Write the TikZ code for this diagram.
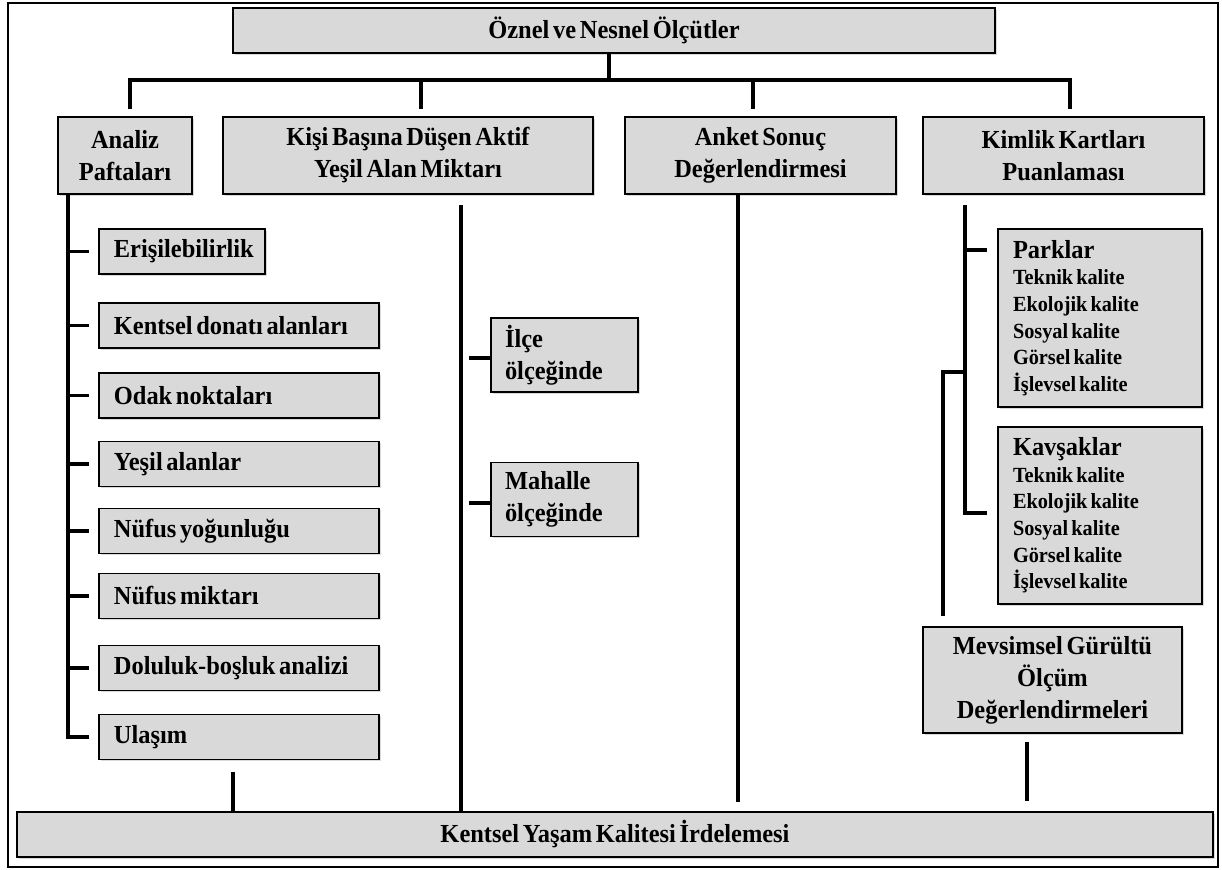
\documentclass[tikz,border=0pt]{standalone}
\usepackage{fontspec}
\setmainfont[FakeStretch=0.94,WordSpace=0.6]{Liberation Serif}
\usetikzlibrary{shadows,calc}
\definecolor{boxgray}{RGB}{217,217,217}
\begin{document}
\begin{tikzpicture}[
  x=0.5pt, y=-0.5pt,
  box/.style={
    draw,
    fill=boxgray,
    line width=0.9pt,
    drop shadow={shadow xshift=0.8pt,shadow yshift=-0.8pt,opacity=0.3},
    font=\bfseries\fontsize{13}{16}\selectfont,
    align=center,
    inner sep=0pt
  },
  item/.style={
    box,
    anchor=west,
    align=left,
    minimum height=22.5pt,
    inner xsep=7.5pt,
    execute at begin node={\spaceskip=0pt\xspaceskip=0pt}
  },
  scalebox/.style={
    box,
    align=left,
    text width=59.5pt,
    inner xsep=7pt,
    minimum height=37pt
  },
  cardbox/.style={
    box,
    align=left,
    text width=87pt,
    inner xsep=7.5pt,
    minimum height=89pt,
    font=\bfseries\fontsize{10.8}{13.3}\selectfont,
    execute at begin node={\spaceskip=0pt\xspaceskip=0pt}
  },
  link/.style={line width=1.8pt}
]
\useasboundingbox (0,0) rectangle (1222,870);
\draw[line width=1.3pt] (8,3) rectangle (1218,867);

\node[box, minimum width=381pt, minimum height=22.5pt] (olcut) at (614,30.5) {Öznel ve Nesnel Ölçütler};
\node[box, minimum width=67pt, minimum height=38.5pt] (analiz) at (125,155.5) {Analiz\\Paftaları};
\node[box, minimum width=185pt, minimum height=38.5pt] (kisi) at (408,155.5) {Kişi Başına Düşen Aktif\\Yeşil Alan Miktarı};
\node[box, minimum width=135.5pt, minimum height=38.5pt] (anket) at (760.5,155.5) {Anket Sonuç\\Değerlendirmesi};
\node[box, minimum width=140.5pt, minimum height=38.5pt] (kimlik) at (1063.5,155.5) {Kimlik Kartları\\Puanlaması};

\node[item, text width=68pt] (eris) at (98,251.5) {Erişilebilirlik};
\node[item, text width=125pt] (donati) at (98,325.5) {Kentsel donatı alanları};
\node[item, text width=125pt] (odak) at (98,395.5) {Odak noktaları};
\node[item, text width=125pt] (yesil) at (98,464) {Yeşil alanlar};
\node[item, text width=125pt] (yogun) at (98,531) {Nüfus yoğunluğu};
\node[item, text width=125pt] (miktar) at (98,596) {Nüfus miktarı};
\node[item, text width=125pt] (doluluk) at (98,668) {Doluluk-boşluk analizi};
\node[item, text width=125pt] (ulasim) at (98,737) {Ulaşım};

\node[scalebox] (ilce) at (564.5,355) {İlçe\\ölçeğinde};
\node[scalebox] (mahalle) at (564.5,499.5) {Mahalle\\ölçeğinde};

\node[cardbox] (parklar) at (1100,318) {{\fontsize{13}{13.3}\selectfont Parklar}\\Teknik kalite\\Ekolojik kalite\\Sosyal kalite\\Görsel kalite\\İşlevsel kalite};
\node[cardbox, minimum height=88.5pt] (kavsak) at (1100,515.5) {{\fontsize{13}{13.3}\selectfont Kavşaklar}\\Teknik kalite\\Ekolojik kalite\\Sosyal kalite\\Görsel kalite\\İşlevsel kalite};
\node[box, minimum width=129.5pt, minimum height=53pt] (mevsim) at (1052.5,680) {Mevsimsel Gürültü\\Ölçüm\\Değerlendirmeleri};

\node[box, minimum width=598pt, minimum height=22.5pt] (irdeleme) at (615,834.5) {Kentsel Yaşam Kalitesi İrdelemesi};

\coordinate (hub) at (609,80);
\coordinate (busL) at (130,80);
\coordinate (busR) at (1070,80);
\coordinate (dropK) at (421,80);
\coordinate (dropN) at (753,80);
\draw[link] (olcut.south -| hub) -- (hub);
\draw[link] ($(analiz.north -| busL)+(0,-7)$) |- (busR) -- ($(kimlik.north -| busR)+(0,-7)$);
\draw[link] (dropK) -- ($(kisi.north -| dropK)+(0,-7)$);
\draw[link] (dropN) -- ($(anket.north -| dropN)+(0,-7)$);

\coordinate (spA) at (68,194);
\draw[link] (analiz.south -| spA) |- ($(ulasim.west)+(-9,0)$);
\foreach \n in {eris,donati,odak,yesil,yogun,miktar,doluluk}
  \draw[link] (\n.west -| spA) -- ($(\n.west)+(-9,0)$);
\coordinate (uC) at (233,772);
\draw[link] (uC) -- (irdeleme.north -| uC);

\coordinate (spK) at (461,205);
\draw[link] (spK) -- (irdeleme.north -| spK);
\draw[link] ($(ilce.west)+(-21,3)$) -- ($(ilce.west)+(0,3)$);
\draw[link] ($(mahalle.west)+(-21,3.5)$) -- ($(mahalle.west)+(0,3.5)$);

\coordinate (spN) at (738,802);
\draw[link] (anket.south -| spN) -- (spN);

\coordinate (spM) at (965,205);
\coordinate (tP) at ($(parklar.north west)+(-10,22)$);
\draw[link] (spM |- tP) -- (tP);
\draw[link] (spM) |- ($(kavsak.west)+(-10,-2.5)$);
\coordinate (br) at (943,372);
\coordinate (brE) at (943,616);
\draw[link] (spM |- br) -| (brE);
\coordinate (mD) at (1027,742);
\draw[link] (mD) -- ($(irdeleme.north -| mD)+(0,-10)$);
\end{tikzpicture}
\end{document}
